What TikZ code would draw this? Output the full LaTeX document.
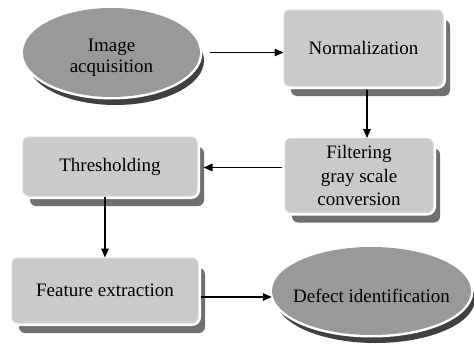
\documentclass[tikz,border=0pt]{standalone}
\usepackage{fontspec}
\setmainfont{Liberation Serif}
\newfontfamily\stepfont{Liberation Serif}
\usetikzlibrary{shapes.geometric, shadows, arrows.meta}
\usepackage{xcolor}

\definecolor{ovalgray}{HTML}{999999}
\definecolor{ovalshade}{HTML}{404040}
\definecolor{boxgray}{HTML}{CACACA}
\definecolor{boxedge}{HTML}{D6D6D6}
\definecolor{boxshade}{HTML}{707070}

\tikzset{
  box/.style={rectangle, rounded corners=6pt, fill=boxgray, draw=boxedge,
    line width=1pt, inner sep=0pt, align=center,
    font=\stepfont\fontsize{19}{23.5}\selectfont,
    drop shadow={shadow xshift=7pt, shadow yshift=-10pt, fill=boxshade, opacity=1},
    preaction={draw=white, line width=6pt}},
  oval/.style={ellipse, fill=ovalgray, inner sep=0pt,
    drop shadow={shadow xshift=4pt, shadow yshift=-8pt, fill=ovalshade, opacity=1},
    preaction={draw=white, line width=5pt}},
  ovaltext/.style={align=center, yshift=-5pt, inner sep=0pt,
    font=\stepfont\fontsize{19}{21}\selectfont},
  flow/.style={line width=1.5pt, -{Triangle[length=9pt, width=7.5pt]}}
}

\begin{document}
\begin{tikzpicture}[x=1pt, y=-1pt]
    \useasboundingbox (0,0) rectangle (474,343);

    % Centres of the steps
    \coordinate (c1) at (111.5, 52.5); % Image acquisition
    \coordinate (c2) at (363.5, 48);   % Normalization
    \coordinate (c3) at (359, 175.5);  % Filtering
    \coordinate (c4) at (110, 166.5);  % Thresholding
    \coordinate (c5) at (105, 290.5);  % Feature extraction
    \coordinate (c6) at (371.5, 291);  % Defect identification

    % Steps
    \node[oval, minimum width=177pt, minimum height=89pt,
          label={[ovaltext]center:Image\\acquisition}] (acq) at (c1) {};
    \node[box, minimum width=159pt, minimum height=76pt] (norm) at (c2) {Normalization};
    \node[box, minimum width=148pt, minimum height=74pt] (filt) at (c3) {Filtering\\gray scale\\conversion};
    \node[box, minimum width=174pt, minimum height=59pt] (thr) at (c4) {Thresholding};
    \node[box, minimum width=186pt, minimum height=65pt] (feat) at (c5) {Feature extraction};
    \node[oval, minimum width=199pt, minimum height=88pt,
          label={[ovaltext]center:Defect identification}] (defect) at (c6) {};

    % Arrows between the steps
    \draw[flow] ([xshift=10pt]acq.east) -- (acq.east -| norm.west); % acquisition to normalization
    \draw[flow] ([xshift=3.5pt, yshift=-3pt]norm.south) -- ([xshift=3.5pt]norm.south |- filt.north); % normalization to filtering
    \draw[flow] ([xshift=-3pt, yshift=-1pt]filt.west |- thr.east) -- ([xshift=6pt, yshift=-1pt]thr.east); % filtering to thresholding
    \draw[flow] (thr.south -| feat.north) -- (feat.north); % thresholding to features
    \draw[flow] ([xshift=2pt, yshift=-6.5pt]feat.east) -- ([yshift=-6.5pt]feat.east -| defect.west); % features to defect
\end{tikzpicture}
\end{document}
